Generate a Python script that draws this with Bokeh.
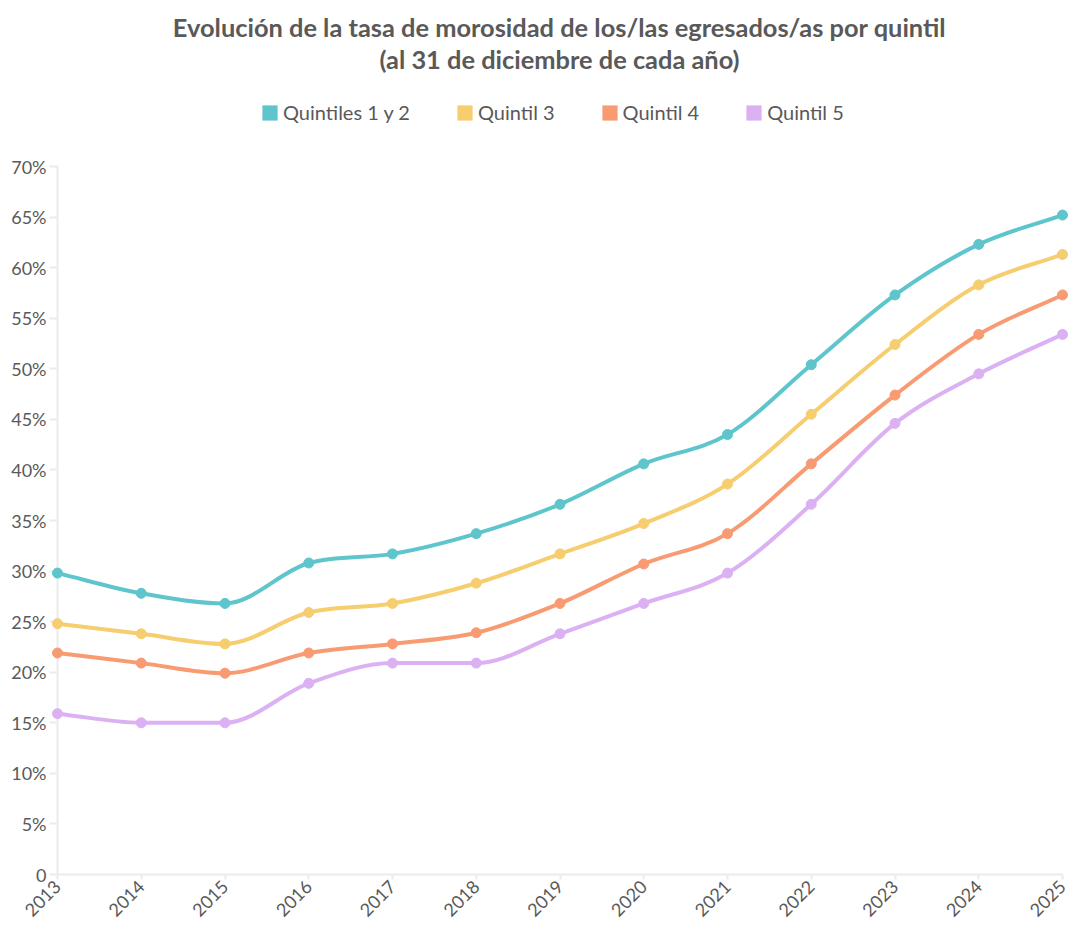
import math
from bokeh.plotting import figure
from bokeh.models import Range1d, FixedTicker, Legend, LegendItem, Label
from bokeh.embed import file_html
from bokeh.resources import INLINE

# ---------------- data ----------------
years = [2013, 2014, 2015, 2016, 2017, 2018, 2019, 2020, 2021, 2022, 2023, 2024, 2025]
series_names = ["Quintiles 1 y 2", "Quintil 3", "Quintil 4", "Quintil 5"]
q12 = [29.8, 27.8, 26.8, 30.8, 31.7, 33.7, 36.6, 40.6, 43.5, 50.4, 57.3, 62.3, 65.2]
q3 = [24.8, 23.8, 22.8, 25.9, 26.8, 28.8, 31.7, 34.7, 38.6, 45.5, 52.4, 58.3, 61.3]
q4 = [21.9, 20.9, 19.9, 21.9, 22.8, 23.9, 26.8, 30.7, 33.7, 40.6, 47.4, 53.4, 57.3]
q5 = [15.9, 15.0, 15.0, 18.9, 20.9, 20.9, 23.8, 26.8, 29.8, 36.6, 44.6, 49.5, 53.4]
y_ticks = [0, 5, 10, 15, 20, 25, 30, 35, 40, 45, 50, 55, 60, 65, 70]
y_tick_labels = ["0", "5%", "10%", "15%", "20%", "25%", "30%", "35%", "40%",
                 "45%", "50%", "55%", "60%", "65%", "70%"]
title_line1 = "Evolución de la tasa de morosidad de los/las egresados/as por quintil"
title_line2 = "(al 31 de diciembre de cada año)"
colors = ["#5ec5cc", "#f6cd6f", "#f89b72", "#dcb1f3"]

FONT = "Lato"
TEXT = "#595959"
NAN = float("nan")


def monotone_tangents(xs, ys):
    n = len(xs)
    dk = [(ys[i + 1] - ys[i]) / (xs[i + 1] - xs[i]) for i in range(n - 1)]
    mk = []
    for i in range(n):
        if i == 0:
            mk.append(dk[0])
        elif i == n - 1:
            mk.append(dk[-1])
        else:
            a, b = dk[i - 1], dk[i]
            if a == 0 or b == 0 or (a > 0) != (b > 0):
                mk.append(0.0)
            else:
                mk.append((a + b) / 2)
    for i in range(n - 1):
        if abs(dk[i]) < 1e-9:
            mk[i] = 0.0
            mk[i + 1] = 0.0
            continue
        al = mk[i] / dk[i]
        be = mk[i + 1] / dk[i]
        sq = al * al + be * be
        if sq <= 9:
            continue
        tau = 3 / math.sqrt(sq)
        mk[i] = al * tau * dk[i]
        mk[i + 1] = be * tau * dk[i]
    return mk


def bezier_data(xs, ys):
    m = monotone_tangents(xs, ys)
    d = dict(x0=[], y0=[], x1=[], y1=[], cx0=[], cy0=[], cx1=[], cy1=[])
    for i in range(len(xs) - 1):
        h = (xs[i + 1] - xs[i]) / 3
        d["x0"].append(xs[i]); d["y0"].append(ys[i])
        d["x1"].append(xs[i + 1]); d["y1"].append(ys[i + 1])
        d["cx0"].append(xs[i] + h); d["cy0"].append(ys[i] + m[i] * h)
        d["cx1"].append(xs[i + 1] - h); d["cy1"].append(ys[i + 1] - m[i + 1] * h)
    return d


# ---------------- layout (figure pixels) ----------------
W, H = 1073, 926
FRAME_L, FRAME_B = 57, 874          # frame left / bottom edge
X_LAST_PX, Y_TOP_PX = 1062, 166     # pixel of last year / of top tick
px_per_x = (X_LAST_PX - FRAME_L) / (years[-1] - years[0])
px_per_y = (FRAME_B - Y_TOP_PX) / (y_ticks[-1] - y_ticks[0])
x_end = years[0] + (W - FRAME_L) / px_per_x
y_end = y_ticks[0] + FRAME_B / px_per_y

p = figure(width=W, height=H, output_backend="svg", toolbar_location=None,
           x_range=Range1d(years[0], x_end), y_range=Range1d(y_ticks[0], y_end),
           min_border_left=FRAME_L, min_border_right=0,
           min_border_top=0, min_border_bottom=H - FRAME_B)
p.outline_line_color = None
p.grid.visible = False
p.background_fill_color = "white"
p.border_fill_color = "white"

# axes
p.xaxis.ticker = FixedTicker(ticks=years)
p.xaxis.bounds = (years[0], years[-1])
p.xaxis.major_label_orientation = math.pi / 4
p.yaxis.ticker = FixedTicker(ticks=y_ticks)
p.yaxis.bounds = (y_ticks[0], y_ticks[-1])
p.yaxis.major_label_overrides = {t: l for t, l in zip(y_ticks, y_tick_labels)}
for ax in (p.xaxis, p.yaxis):
    ax.axis_line_color = "#ebebeb"
    ax.axis_line_width = 2
    ax.major_tick_line_color = "#ebebeb"
    ax.major_tick_line_width = 2
    ax.minor_tick_line_color = None
    ax.major_tick_in = 0
    ax.major_label_text_font = FONT
    ax.major_label_text_font_size = "18px"
    ax.major_label_text_color = TEXT
p.yaxis.major_tick_out = 8
p.yaxis.major_label_standoff = 3
p.xaxis.major_tick_out = 5
p.xaxis.major_label_standoff = 4

legend_items = []
for name, vals, col in zip(series_names, [q12, q3, q4, q5], colors):
    p.bezier(source=bezier_data(years, vals), x0="x0", y0="y0", x1="x1", y1="y1",
             cx0="cx0", cy0="cy0", cx1="cx1", cy1="cy1",
             line_color=col, line_width=4, line_cap="round")
    p.scatter(years, vals, size=10, marker="circle", fill_color=col, line_color=col,
              level="overlay")
    box = p.quad(left=[NAN], right=[NAN], top=[NAN], bottom=[NAN],
                 fill_color=col, line_color=None)
    legend_items.append(LegendItem(label=name, renderers=[box]))

legend = Legend(items=legend_items, orientation="horizontal",
                location=(260 - FRAME_L, FRAME_B - 124),
                border_line_color=None, background_fill_alpha=0,
                label_text_font=FONT, label_text_font_size="20px", label_text_color=TEXT,
                glyph_width=19, glyph_height=19, spacing=45, label_standoff=4,
                padding=0, margin=0)
p.add_layout(legend, "center")

title_x = years[0] + (559 - FRAME_L) / px_per_x
for txt, ypx in ((title_line1, 26), (title_line2, 58)):
    p.add_layout(Label(x=title_x, y=(FRAME_B - ypx) / px_per_y, text=txt,
                       text_align="center", text_baseline="middle",
                       text_font=FONT, text_font_size="25.4px", text_font_style="bold",
                       text_color=TEXT))

open("out.html", "w").write(file_html(p, INLINE))
